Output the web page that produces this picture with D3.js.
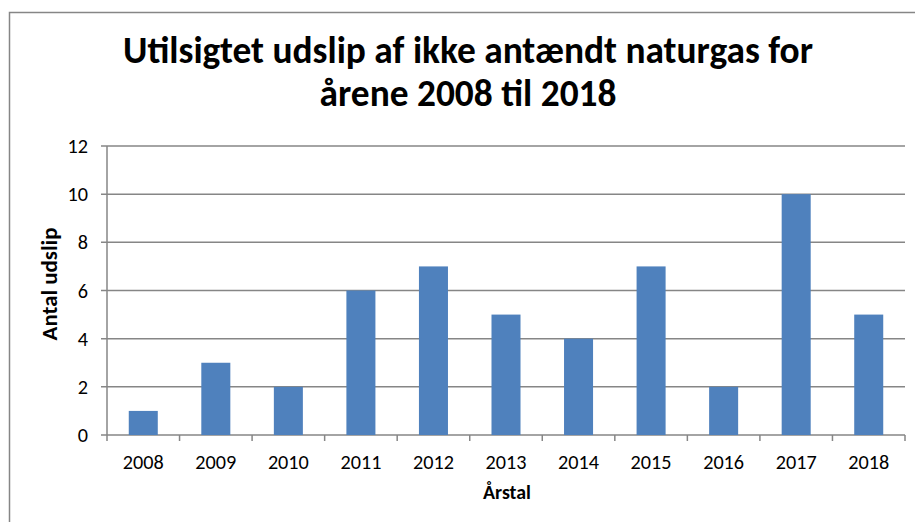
<!DOCTYPE html>
<html>
<head>
<meta charset="utf-8">
<script src="https://cdn.jsdelivr.net/npm/d3@7"></script>
<style>
  body { margin: 0; background: #fff; }
  svg { display: block; font-family: Carlito, Calibri, "Open Sans", sans-serif; }
</style>
</head>
<body>
<svg id="chart" width="915" height="522"></svg>
<script>
const years = ["2008", "2009", "2010", "2011", "2012", "2013", "2014", "2015", "2016", "2017", "2018"];
const udslip = [1, 3, 2, 6, 7, 5, 4, 7, 2, 10, 5];
const yTicks = [0, 2, 4, 6, 8, 10, 12];
const titleLines = ["Utilsigtet udslip af ikke antændt naturgas for", "årene 2008 til 2018"];

const svg = d3.select("#chart");
const margin = { top: 146, right: 10, bottom: 87, left: 107 };
const width = 915 - margin.left - margin.right;
const height = 522 - margin.top - margin.bottom;

// scale a text's font size so its width matches what the screenshot shows
function fitWidth(sel, target) {
  const node = sel.node();
  const base = parseFloat(sel.style("font-size"));
  const w = node.getComputedTextLength();
  if (w > 0) sel.style("font-size", (base * target / w).toFixed(2) + "px");
  return sel;
}

// chart frame (runs off right/bottom edge like the screenshot)
svg.append("rect")
  .attr("x", 9.5).attr("y", 12.5)
  .attr("width", 940).attr("height", 540)
  .attr("fill", "none")
  .attr("stroke", "#868686")
  .attr("stroke-width", 1.5);

const x = d3.scaleBand()
  .domain(years)
  .range([0, width])
  .paddingInner(0.6)
  .paddingOuter(0.3);

const y = d3.scaleLinear()
  .domain([0, 12])
  .range([height, 0]);

const g = svg.append("g")
  .attr("transform", `translate(${margin.left},${margin.top})`);

// gridlines
g.selectAll("line.grid")
  .data(yTicks)
  .enter()
  .append("line")
  .attr("class", "grid")
  .attr("x1", -6)
  .attr("x2", width)
  .attr("y1", (d) => y(d))
  .attr("y2", (d) => y(d))
  .attr("stroke", "#868686")
  .attr("stroke-width", 1.5);

// y axis line
g.append("line")
  .attr("x1", 0).attr("x2", 0)
  .attr("y1", 0).attr("y2", height)
  .attr("stroke", "#868686")
  .attr("stroke-width", 1.5);

// x category ticks
const tickPos = d3.range(years.length + 1).map((i) => i * width / years.length);
g.selectAll("line.xtick")
  .data(tickPos)
  .enter()
  .append("line")
  .attr("class", "xtick")
  .attr("x1", (d) => d).attr("x2", (d) => d)
  .attr("y1", height).attr("y2", height + 6)
  .attr("stroke", "#868686")
  .attr("stroke-width", 1.5);

// bars
g.selectAll("rect.bar")
  .data(udslip)
  .enter()
  .append("rect")
  .attr("class", "bar")
  .attr("x", (d, i) => x(years[i]))
  .attr("y", (d) => y(d))
  .attr("width", x.bandwidth())
  .attr("height", (d) => height - y(d))
  .attr("fill", "#4F81BD");

// measure tick font size from one label
const probe = svg.append("text").style("font-size", "17px").text("2008");
fitWidth(probe, 41);
const tickSize = probe.style("font-size");
probe.remove();

// y tick labels
g.selectAll("text.ylab")
  .data(yTicks)
  .enter()
  .append("text")
  .attr("class", "ylab")
  .attr("x", -19)
  .attr("y", (d) => y(d))
  .attr("dy", "0.35em")
  .attr("text-anchor", "end")
  .style("font-size", tickSize)
  .attr("fill", "#000")
  .text((d) => d);

// x tick labels
g.selectAll("text.xlab")
  .data(years)
  .enter()
  .append("text")
  .attr("class", "xlab")
  .attr("x", (d) => x(d) + x.bandwidth() / 2)
  .attr("y", height + 34)
  .attr("text-anchor", "middle")
  .style("font-size", tickSize)
  .attr("fill", "#000")
  .text((d) => d);

// axis titles
const xTitle = svg.append("text")
  .attr("x", 507)
  .attr("y", 499)
  .attr("text-anchor", "middle")
  .style("font-size", "17px")
  .style("font-weight", "bold")
  .text("Årstal");
fitWidth(xTitle, 48);

const yTitle = svg.append("text")
  .attr("transform", "translate(57,284) rotate(-90)")
  .attr("text-anchor", "middle")
  .style("font-size", "17px")
  .style("font-weight", "bold")
  .text("Antal udslip");
fitWidth(yTitle, 113);

// title
const titles = svg.append("g")
  .selectAll("text")
  .data(titleLines)
  .enter()
  .append("text")
  .attr("x", 468)
  .attr("y", (d, i) => 63 + i * 43)
  .attr("text-anchor", "middle")
  .style("font-size", "33px")
  .style("font-weight", "bold")
  .text((d) => d);
fitWidth(d3.select(titles.nodes()[0]), 690);
titles.style("font-size", d3.select(titles.nodes()[0]).style("font-size"));
</script>
</body>
</html>
